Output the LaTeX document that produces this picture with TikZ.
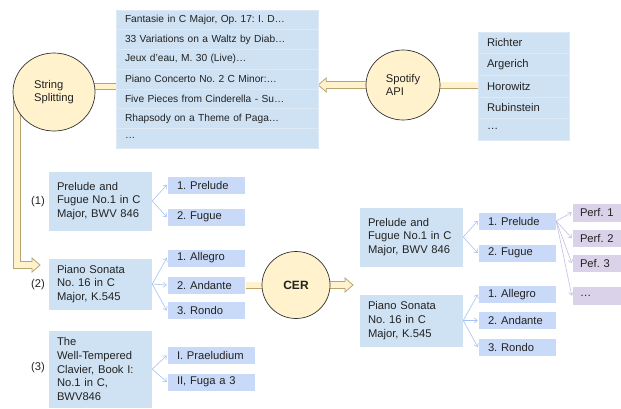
\documentclass[tikz,border=0pt]{standalone}
\usepackage{fontspec}
\setmainfont{Liberation Sans}
\frenchspacing
\usetikzlibrary{arrows.meta,calc,shapes.geometric,backgrounds}
\definecolor{boxblue}{HTML}{CFE2F3}
\definecolor{subblue}{HTML}{C9DAF8}
\definecolor{perfpurple}{HTML}{D9D2E9}
\definecolor{cream}{HTML}{FFF2CC}
\definecolor{arrowtan}{HTML}{B8A46E}
\definecolor{fanblue}{HTML}{A4C2F4}
\definecolor{fanpurple}{HTML}{C5BEE0}
\definecolor{rowline}{HTML}{DDE9F5}
\definecolor{txt}{HTML}{222222}
\definecolor{circline}{HTML}{333333}
\begin{document}
\frenchspacing
\begin{tikzpicture}[x=1pt,y=-1pt,
  every node/.style={text=txt},
  listrow/.style={fill=boxblue, draw=rowline, line width=0.5pt, inner xsep=9pt, inner ysep=0pt,
    text width=184pt, minimum height=19.7pt, font=\fontsize{10.2}{12}\selectfont, align=left},
  namerow/.style={fill=boxblue, draw=rowline, line width=0.5pt, inner xsep=9pt, inner ysep=0pt,
    text width=73pt, minimum height=21.6pt, font=\fontsize{11.2}{13}\selectfont, align=left},
  bigbox/.style={fill=boxblue, draw=white, line width=0.5pt, inner xsep=9pt, inner ysep=0pt,
    text width=86pt, font=\fontsize{11.2}{13.7}\selectfont, align=left},
  subbox/.style={fill=subblue, draw=white, line width=0.5pt, inner xsep=10pt, inner ysep=0pt,
    text width=58pt, minimum height=18pt, font=\fontsize{11.2}{13}\selectfont, align=left},
  widesub/.style={subbox, text width=68pt},
  perfbox/.style={fill=perfpurple, draw=white, line width=0.5pt, inner xsep=8pt, inner ysep=0pt,
    text width=44pt, minimum height=18.5pt, font=\fontsize{11.2}{13}\selectfont, align=left},
  circ/.style={ellipse, fill=cream, draw=circline, line width=0.7pt, inner sep=0pt, align=left,
    font=\fontsize{11.2}{13.7}\selectfont},
  lab/.style={font=\fontsize{11.2}{13}\selectfont},
  shaft/.style={draw=arrowtan, line width=0.8pt, double=cream, double distance=5.4pt},
  blockar/.style={draw=arrowtan, fill=cream, line width=0.8pt, line join=miter},
  fan/.style={draw=fanblue, line width=0.6pt, -{Straight Barb[length=3pt,width=5pt]}},
  fanp/.style={draw=fanpurple, line width=0.6pt, -{Straight Barb[length=3pt,width=5pt]}}
]
\useasboundingbox (0,0) rectangle (621,408);

% top list
\node[listrow] (L1) at (217,19.857) {Fantasie in C Major, Op. 17: I. D…};
\node[listrow] (L2) at (217,39.571) {33 Variations on a Waltz by Diab…};
\node[listrow] (L3) at (217,59.286) {Jeux d'eau, M. 30 (Live)…};
\node[listrow] (L4) at (217,79.0) {Piano Concerto No. 2 C Minor:…};
\node[listrow] (L5) at (217,98.714) {Five Pieces from Cinderella - Su…};
\node[listrow] (L6) at (217,118.43) {Rhapsody on a Theme of Paga…};
\node[listrow] (L7) at (217,138.14) {…};

% pianists
\node[namerow] (R1) at (523.5,42.8) {Richter};
\node[namerow] (R2) at (523.5,64.4) {Argerich};
\node[namerow] (R3) at (523.5,86.0) {Horowitz};
\node[namerow] (R4) at (523.5,107.6) {Rubinstein};
\node[namerow] (R5) at (523.5,129.2) {…};

% circles
\node[circ, minimum width=82pt, minimum height=78pt] (ss) at (54,92) {String\\Splitting};
\node[circ, minimum width=74pt, minimum height=70pt] (spot) at (403,85) {Spotify\\API};
\node[circ, minimum width=68pt, minimum height=67pt, font=\fontsize{12}{14}\selectfont\bfseries] (cer) at (296,285) {CER};

% left works
\node[bigbox, minimum height=60pt] (b1) at (100,201) {Prelude and\\Fugue No.1 in C\\Major, BWV 846};
\node[bigbox, minimum height=52pt] (b2) at (100,284) {Piano Sonata\\No. 16 in C\\Major, K.545};
\node[bigbox, minimum height=78pt] (b3) at (100,369) {The\\Well-Tempered\\Clavier, Book I:\\No.1 in C,\\BWV846};
\node[lab] (n1) at (38,202) {(1)};
\node[lab] (n2) at (38,285) {(2)};
\node[lab] (n3) at (38,368) {(3)};

\node[subbox] (s11) at (206,185) {1. Prelude};
\node[subbox] (s12) at (206,217) {2. Fugue};
\node[subbox] (s21) at (206,258) {1. Allegro};
\node[subbox] (s22) at (206,285) {2. Andante};
\node[subbox] (s23) at (206,310.5) {3. Rondo};
\node[widesub] (s31) at (211,355.5) {I. Praeludium};
\node[widesub] (s32) at (211,382) {II, Fuga a 3};

% right works
\node[bigbox, minimum height=60pt] (rb1) at (411,237) {Prelude and\\Fugue No.1 in C\\Major, BWV 846};
\node[bigbox, minimum height=53pt] (rb2) at (411,320.5) {Piano Sonata\\No. 16 in C\\Major, K.545};
\node[subbox] (rs11) at (517,221) {1. Prelude};
\node[subbox] (rs12) at (517,253) {2. Fugue};
\node[subbox] (rs21) at (517,294.5) {1. Allegro};
\node[subbox] (rs22) at (517,320.5) {2. Andante};
\node[subbox] (rs23) at (517,347) {3. Rondo};
\node[perfbox] (p1) at (602,212.5) {Perf. 1};
\node[perfbox] (p2) at (602,238) {Perf. 2};
\node[perfbox] (p3) at (602,263) {Pef. 3};
\node[perfbox] (p4) at (602,295.5) {…};

% free ends
\coordinate (ltip) at (L1.east |- spot.center);
\coordinate (ctip) at (353,285);
\coordinate (b2tip) at (40,265);
\coordinate (bend) at (17,265);
\coordinate (vtop) at (ss.center -| bend);

\begin{pgfonlayer}{background}
\draw[shaft] (spot.center) -- (spot.center -| R3.center);
\draw[shaft] ([yshift=5.3pt]ss.center) -- ([yshift=5.3pt]ss.center -| L4.center);
\draw[shaft] (s22.center) -- (cer.center);
\draw[blockar] (ltip) -- ($(ltip)+(8,-7)$) -- ($(ltip)+(8,-3.5)$) -- ($(spot.center)+(0,-3.5)$)
  -- ($(spot.center)+(0,3.5)$) -- ($(ltip)+(8,3.5)$) -- ($(ltip)+(8,7)$) -- cycle;
\draw[blockar] (ctip) -- ($(ctip)+(-8,-7)$) -- ($(ctip)+(-8,-3.5)$) -- ($(cer.center)+(0,-3.5)$)
  -- ($(cer.center)+(0,3.5)$) -- ($(ctip)+(-8,3.5)$) -- ($(ctip)+(-8,7)$) -- cycle;
\draw[blockar] ($(vtop)+(-3.5,0)$) -- ($(bend)+(-3.5,3.5)$) -- ($(b2tip)+(-8,3.5)$) -- ($(b2tip)+(-8,7)$)
  -- (b2tip) -- ($(b2tip)+(-8,-7)$) -- ($(b2tip)+(-8,-3.5)$) -- ($(bend)+(3.5,-3.5)$)
  -- ($(vtop)+(3.5,0)$) -- cycle;
\end{pgfonlayer}

% fans
\draw[fan] (b1.east) -- (s11.west);
\draw[fan] (b1.east) -- (s12.west);
\draw[fan] (b2.east) -- (s21.west);
\draw[fan] (b2.east) -- (s22.west);
\draw[fan] (b2.east) -- (s23.west);
\draw[fan] (b3.east) -- (s31.west);
\draw[fan] (b3.east) -- (s32.west);
\draw[fan] (rb1.east) -- (rs11.west);
\draw[fan] (rb1.east) -- (rs12.west);
\draw[fan] (rb2.east) -- (rs21.west);
\draw[fan] (rb2.east) -- (rs22.west);
\draw[fan] (rb2.east) -- (rs23.west);
\draw[fanp] (rs11.east) -- (p1.west);
\draw[fanp] (rs11.east) -- (p2.west);
\draw[fanp] (rs11.east) -- (p3.west);
\draw[fanp] (rs11.east) -- (p4.west);
\end{tikzpicture}
\end{document}
